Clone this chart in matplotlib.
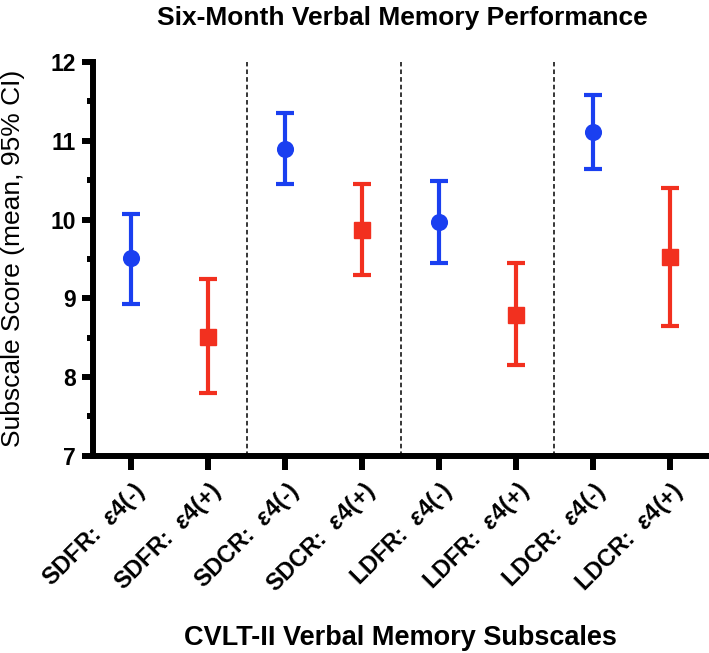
import numpy as np
import matplotlib
matplotlib.use("Agg")
import matplotlib.pyplot as plt

plt.rcParams["font.family"] = ["Liberation Sans", "DejaVu Sans"]
plt.rcParams["mathtext.fontset"] = "custom"
plt.rcParams["mathtext.rm"] = "Liberation Sans:bold"
plt.rcParams["mathtext.it"] = "Liberation Sans:bold:italic"

# data
subscales = ["SDFR", "SDCR", "LDFR", "LDCR"]
neg_mean = [9.51, 10.89, 9.97, 11.11]
neg_low = [8.93, 10.45, 9.45, 10.64]
neg_high = [10.07, 11.35, 10.49, 11.58]
pos_mean = [8.51, 9.87, 8.79, 9.53]
pos_low = [7.80, 9.30, 8.15, 8.65]
pos_high = [9.24, 10.45, 9.45, 10.40]

labels = []
for s in subscales:
    labels.append(s + r":  $\mathit{ε4(‐)}$")
    labels.append(s + r":  $\mathit{ε4(+)}$")

blue = "#1a3ff0"
red = "#f2301f"

fig = plt.figure(figsize=(7.09, 6.53), dpi=100)
ax = fig.add_axes([0.131, 0.302, 0.868, 0.603])

x_neg = np.arange(len(subscales)) * 2
x_pos = x_neg + 1

nm = np.array(neg_mean)
pm = np.array(pos_mean)
ax.errorbar(x_neg, nm, yerr=[nm - np.array(neg_low), np.array(neg_high) - nm],
            fmt="o", color=blue, ms=11.3, elinewidth=3, capsize=6.5, capthick=3, zorder=3)
ax.errorbar(x_pos, pm, yerr=[pm - np.array(pos_low), np.array(pos_high) - pm],
            fmt="s", color=red, ms=11.3, elinewidth=3, capsize=6.5, capthick=3, zorder=3)

# separators between subscales
for xv in [1.5, 3.5, 5.5]:
    ax.axvline(xv, color="black", ls=(0, (3, 2)), lw=1.1, zorder=1)

ax.set_xlim(-0.5, 7.5)
ax.set_ylim(7, 12)
ax.set_yticks([7, 8, 9, 10, 11, 12])
ax.set_yticks(np.arange(7.5, 12, 1.0), minor=True)
ax.set_xticks(np.arange(8))
ax.set_xticklabels(labels, rotation=45, ha="right", rotation_mode="anchor",
                   fontsize=17, fontweight="bold")
for t in ax.get_yticklabels():
    t.set_fontsize(16.5)
    t.set_fontweight("bold")

ax.spines["top"].set_visible(False)
ax.spines["right"].set_visible(False)
ax.spines["left"].set_linewidth(4.3)
ax.spines["bottom"].set_linewidth(4.3)
ax.tick_params(axis="y", which="major", length=8, width=4.3, pad=4)
ax.tick_params(axis="y", which="minor", length=4.5, width=4.3)
ax.tick_params(axis="x", which="major", length=10, width=4.3, pad=6)

fig.text(0.019, 0.604, "Subscale Score (mean, 95% CI)", ha="center", va="center",
         rotation=90, fontsize=19)
fig.text(0.567, 0.972, "Six-Month Verbal Memory Performance", ha="center", va="center",
         fontsize=19, fontweight="bold")
fig.text(0.565, 0.023, "CVLT-II Verbal Memory Subscales", ha="center", va="center",
         fontsize=19.5, fontweight="bold")

fig.savefig("out.png", dpi=100)
